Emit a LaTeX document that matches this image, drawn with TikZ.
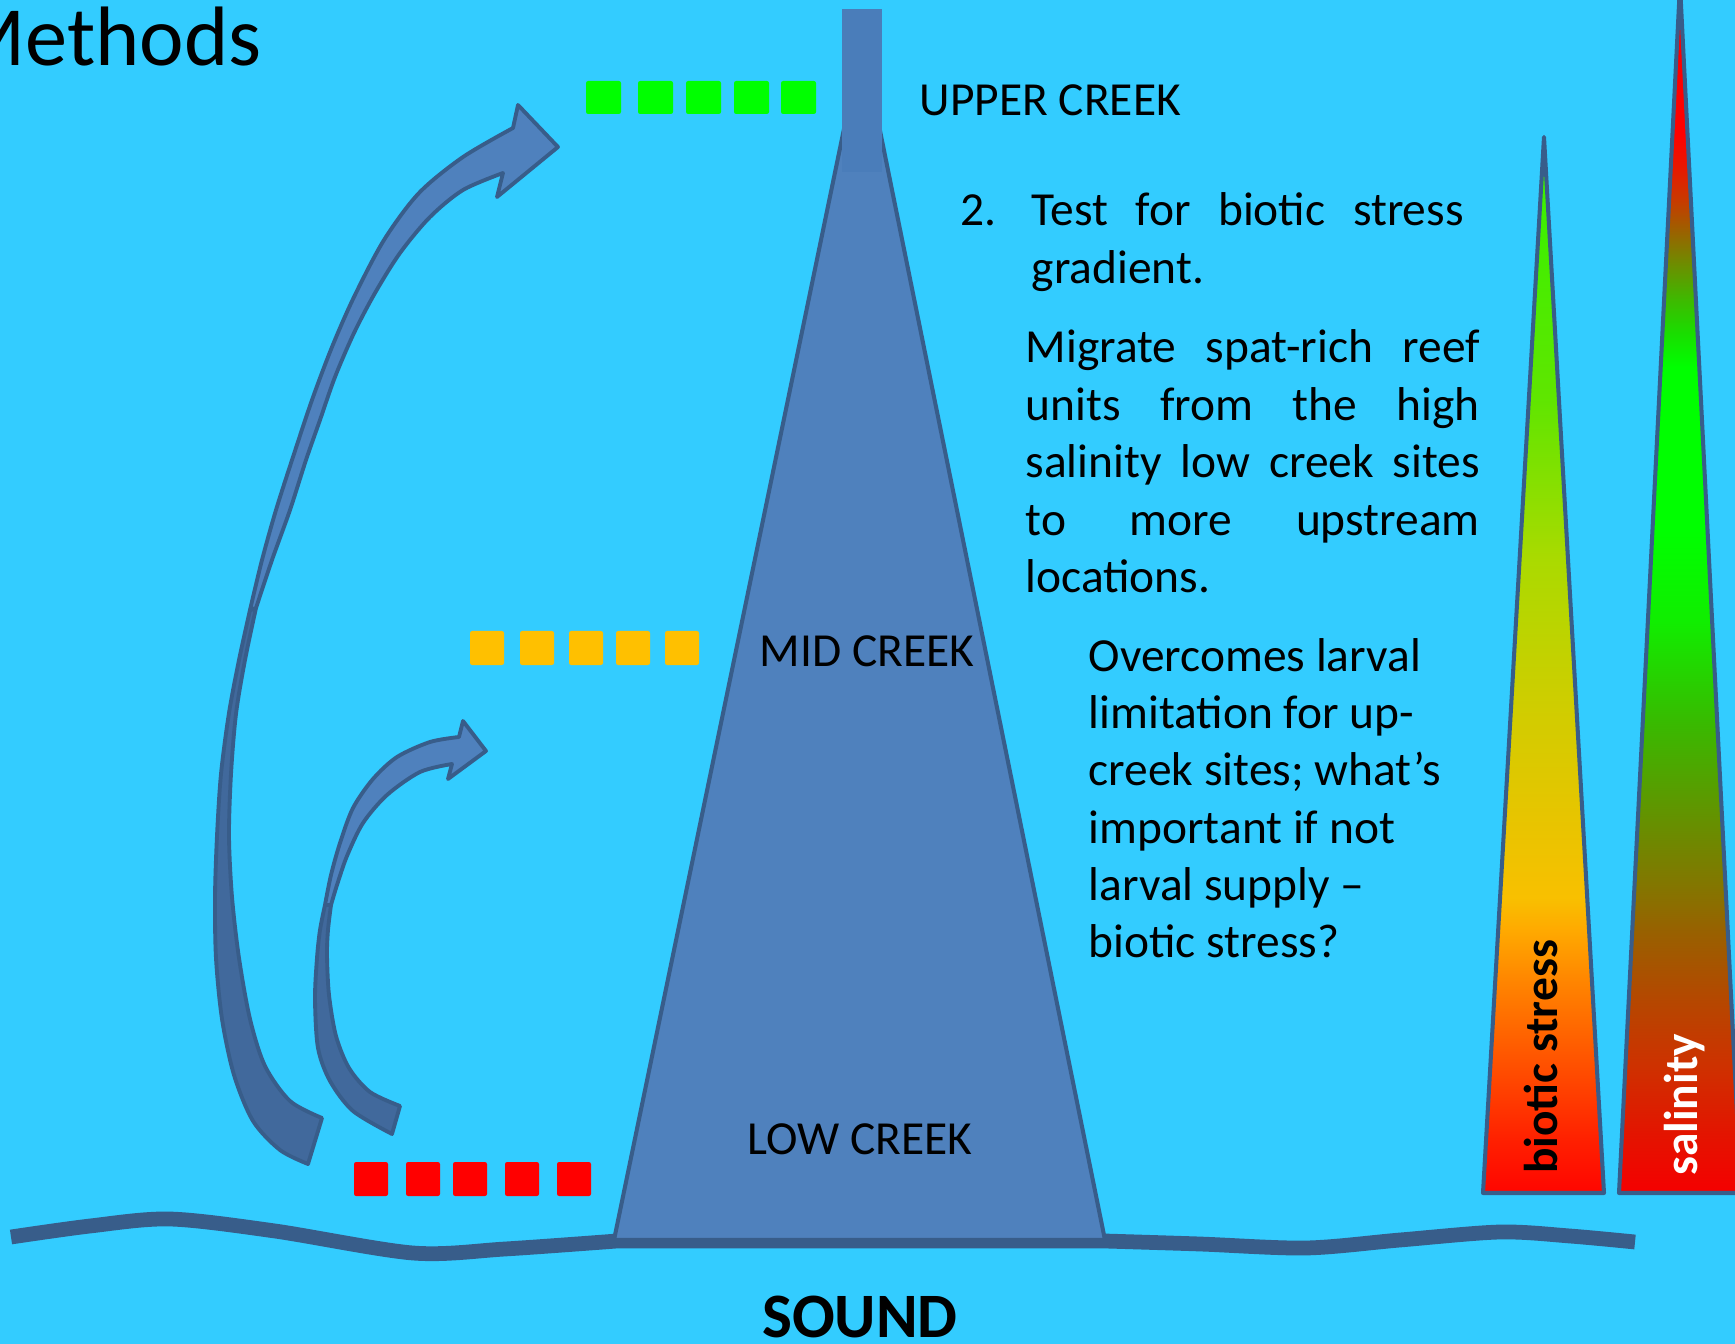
\documentclass[tikz,border=0pt]{standalone}
\usepackage{fontspec}
\setmainfont{Carlito}
\definecolor{seablue}{HTML}{33CCFF}
\definecolor{creekfill}{HTML}{4F81BD}
\definecolor{creekline}{HTML}{385D8A}
\definecolor{shadefill}{HTML}{41699C}
\definecolor{chanfill}{HTML}{4A7DBA}
\definecolor{lowred}{HTML}{FF0000}
\definecolor{midorange}{HTML}{FFC000}
\definecolor{upgreen}{HTML}{00FF00}
\newcommand{\bodyfont}{\fontsize{13.5}{16.33}\selectfont}
\newcommand{\barfont}{\fontsize{13.5}{16}\selectfont\bfseries}
\pgfdeclareverticalshading{bioticshade}{100bp}{rgb(0bp)=(1,0.02,0); rgb(25bp)=(1,0.02,0);
  rgb(27.5bp)=(1,0.125,0); rgb(30.2bp)=(1,0.27,0); rgb(33bp)=(1,0.415,0);
  rgb(35bp)=(1,0.52,0); rgb(37.5bp)=(1,0.667,0); rgb(39bp)=(0.973,0.753,0);
  rgb(42.5bp)=(0.91,0.77,0); rgb(47.5bp)=(0.824,0.8,0); rgb(55bp)=(0.667,0.855,0);
  rgb(62.5bp)=(0.376,0.9,0); rgb(70bp)=(0.26,0.933,0); rgb(75bp)=(0.21,0.96,0);
  rgb(100bp)=(0.21,0.96,0)}
\pgfdeclareverticalshading{salinityshade}{100bp}{rgb(0bp)=(0.96,0,0); rgb(25bp)=(0.96,0,0);
  rgb(27.5bp)=(0.89,0.08,0); rgb(30.2bp)=(0.81,0.19,0); rgb(33bp)=(0.71,0.28,0);
  rgb(35.75bp)=(0.6,0.376,0); rgb(37.15bp)=(0.54,0.44,0); rgb(40bp)=(0.416,0.55,0);
  rgb(44.5bp)=(0.22,0.73,0); rgb(48.7bp)=(0.063,0.933,0); rgb(52.5bp)=(0,1,0);
  rgb(59.2bp)=(0,1,0); rgb(60.6bp)=(0.1,0.867,0); rgb(61.95bp)=(0.24,0.73,0);
  rgb(63.35bp)=(0.416,0.565,0); rgb(64.75bp)=(0.6,0.39,0); rgb(66.1bp)=(0.784,0.227,0);
  rgb(67.45bp)=(0.91,0.094,0); rgb(68.85bp)=(1,0,0); rgb(75bp)=(1,0,0);
  rgb(100bp)=(1,0,0)}
\tikzset{
  shore/.style={draw=creekline, line width=4.2pt},
  creek/.style={fill=creekfill, draw=creekline, line width=1.15pt, line join=round},
  arrowtop/.style={fill=creekfill, draw=creekline, line width=1.1pt, line join=round},
  arrowlow/.style={fill=shadefill, draw=creekline, line width=1.1pt, line join=round},
  spike/.style={draw=creekline, line width=1.15pt, line join=round},
  site/.style={rounded corners=0.6pt}
}

\begin{document}
\begin{tikzpicture}[x=0.1mm, y=-0.1mm, every node/.style={font=\bodyfont, inner sep=0pt}]
    \useasboundingbox (0,0) rectangle (1735,1344);
    \fill[seablue] (0,0) rectangle (1735,1344);

    \draw[shore] plot[smooth] coordinates {(11,1237) (90,1226) (170,1219) (275,1231) (413,1253) (505,1249) (617,1241)}
        -- (1105,1241) -- plot[smooth] coordinates {(1105,1241) (1200,1244) (1306,1248) (1400,1240) (1500,1232) (1570,1236) (1635,1242)};

    \filldraw[creek] (614,1240) -- (862,42) -- (1105,1240) -- cycle;
    \fill[chanfill] (842,9) rectangle (882,172);

    \foreach \x in {586,638,686,734,781} {
        \fill[upgreen, site] (\x,81) rectangle ++(35,33);
    }
    \foreach \x in {470,520,569,616,665} {
        \fill[midorange, site] (\x,631) rectangle ++(34,34);
    }
    \foreach \x in {354,406,453,505,557} {
        \fill[lowred, site] (\x,1162) rectangle ++(34,34);
    }

    \filldraw[arrowlow] plot[smooth] coordinates {(250,610) (239,660) (229,713) (221,774) (217,836) (215,897) (216,958) (222,1019) (234,1075) (253,1121) (280,1150) (308,1164)}
        -- (322,1118) -- plot[smooth] coordinates {(322,1118) (290,1101) (265,1066) (250,1019) (239,958) (232,897) (229,836) (231,774) (236,714) (245,660) (256,608)} -- cycle;
    \filldraw[arrowtop] plot[smooth] coordinates {(250,610) (262,560) (276,510) (293,457) (312,400) (332,347) (354,297) (384,240) (419,193) (463,157) (513,128)}
        -- (518,105) -- (558,147) -- (497,197) -- (503,173)
        -- plot[smooth] coordinates {(503,173) (463,190) (430,217) (400,253) (375,293) (354,333) (335,377) (320,420) (306,460) (290,510) (272,560) (256,608)} -- cycle;

    \filldraw[arrowlow] plot[smooth] coordinates {(325,905) (320,930) (317,958) (315,999) (318,1048) (330,1081) (353,1111) (392,1134)}
        -- (400,1106) -- plot[smooth] coordinates {(400,1106) (370,1092) (349,1068) (336,1036) (329,995) (327,955) (328,930) (331,905)} -- cycle;
    \filldraw[arrowtop] plot[smooth] coordinates {(325,905) (331,875) (340,843) (353,808) (373,779) (397,757) (430,742) (459,737)}
        -- (463,721) -- (486,751) -- (448,779) -- (452,764)
        -- plot[smooth] coordinates {(452,764) (420,772) (387,795) (363,823) (347,856) (337,885) (331,905)} -- cycle;

    \shadedraw[shading=bioticshade, spike] (1483,1193) -- (1544,137) -- (1604,1193) -- cycle;
    \shadedraw[shading=salinityshade, spike] (1619,1193) -- (1680,-15) -- (1741,1193) -- cycle;

    \node[anchor=base west, font=\fontsize{24}{28}\selectfont] (title) at (-47,66) {Methods};
    \node[anchor=base west] (upper) at (919,116) {UPPER CREEK};
    \node[anchor=base west] (mid) at (759,666) {MID CREEK};
    \node[anchor=base west] (low) at (747,1154) {LOW CREEK};
    \node[anchor=base, font=\fontsize{18}{21}\selectfont\bfseries] (sound) at (860,1337) {SOUND};

    \node[anchor=base west] (itemnum) at (960,226) {2.};
    \node[anchor=base west, text width=43.2mm, align=justify] (itemtext) at (1031,226) {Test for biotic stress\linebreak gradient.};
    \node[anchor=base west, text width=45.4mm, align=justify] (migrate) at (1025,363)
        {Migrate spat-rich reef\linebreak units from the high\linebreak salinity low creek sites\linebreak to more upstream\linebreak locations.};
    \node[anchor=base west, align=left] (overcomes) at (1088,958)
        {Overcomes larval\\ limitation for up-\\ creek sites; what’s\\ important if not\\ larval supply –\\ biotic stress?};

    \node[rotate=90, anchor=base, font=\barfont] (biotic) at (1557,1057) {biotic stress};
    \node[rotate=90, anchor=base, font=\barfont, text=white] (salinity) at (1697,1105) {salinity};
\end{tikzpicture}
\end{document}
